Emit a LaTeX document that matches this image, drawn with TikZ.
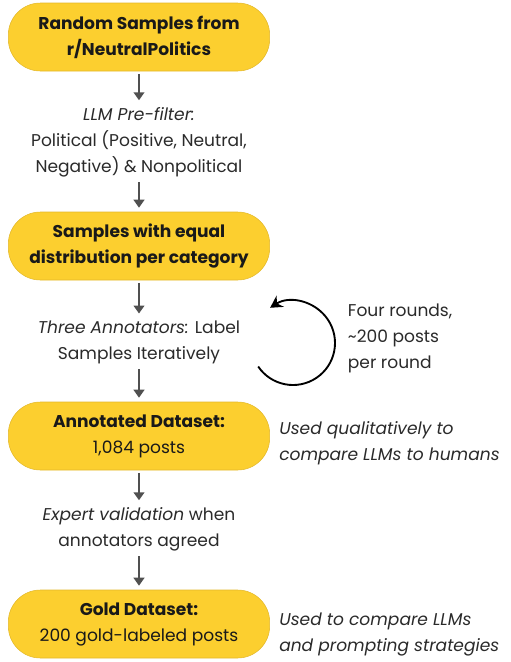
\documentclass[tikz,border=0pt]{standalone}
\usepackage{fontspec}
\setmainfont{Poppins}
\usepackage{tikz}
\usetikzlibrary{arrows.meta, positioning, calc}
\definecolor{stageyellow}{HTML}{FCCF2F}
\definecolor{stageedge}{HTML}{E3B82A}
\definecolor{flowgray}{HTML}{505050}
\definecolor{inktext}{HTML}{2A2A2A}
\tikzset{
    stage/.style={rectangle, rounded corners=24pt, draw=stageedge, fill=stageyellow, thin,
        minimum width=196pt, minimum height=51pt, align=center, text=black!90,
        font=\fontsize{12.8}{19.5}\selectfont},
    note/.style={align=center, text=inktext, font=\fontsize{12.8}{19.5}\selectfont, inner sep=2pt},
    sidenote/.style={align=left, anchor=west, text=inktext, font=\fontsize{12.8}{19.5}\selectfont\itshape, inner sep=0pt},
    flow/.style={-{Triangle[length=6pt,width=8pt]}, draw=flowgray, line width=2.2pt, shorten <=2pt, shorten >=3pt},
    loop/.style={-{Stealth[length=9pt,width=10pt]}, line width=1.4pt}
}

\begin{document}
\begin{tikzpicture}[x=0.75pt, y=-0.75pt]
  \useasboundingbox (0,0) rectangle (511,662);
  % main column
  \node[stage] (random) at (139,37) {\textbf{Random Samples from}\\\textbf{r/NeutralPolitics}};
  \node[note] (prefilter) at (139,142) {\textit{LLM Pre-filter:}\\Political (Positive, Neutral,\\Negative) \& Nonpolitical};
  \node[stage] (equal) at (139,246) {\textbf{Samples with equal}\\\textbf{distribution per category}};
  \node[note] (annot) at (139,342) {\textit{Three Annotators:} Label\\Samples Iteratively};
  \node[stage] (annotated) at (139,436) {\textbf{Annotated Dataset:}\\1,084 posts};
  \node[note] (expert) at (139,529) {\textit{Expert validation} when\\annotators agreed};
  \node[stage] (gold) at (139,624) {\textbf{Gold Dataset:}\\200 gold-labeled posts};

  \draw[flow] (random) -- (prefilter);
  \draw[flow] (prefilter) -- (equal);
  \draw[flow] (equal) -- (annot);
  \draw[flow] (annot) -- (annotated);
  \draw[flow] (annotated) -- (expert);
  \draw[flow] (expert) -- (gold);

  % iteration loop
  \coordinate (loopc) at (293,343);
  \draw[loop] ($(loopc)+(146:42)$) arc[start angle=146, end angle=-123, radius=42];
  \node[note, align=left, anchor=west] (rounds) at (345,338) {Four rounds,\\\textasciitilde200 posts\\per round};

  % side notes
  \node[sidenote] (usedqual) at (279,443) {Used qualitatively to\\compare LLMs to humans};
  \node[sidenote] (usedgold) at (279,634) {Used to compare LLMs\\and prompting strategies};
\end{tikzpicture}
\end{document}
